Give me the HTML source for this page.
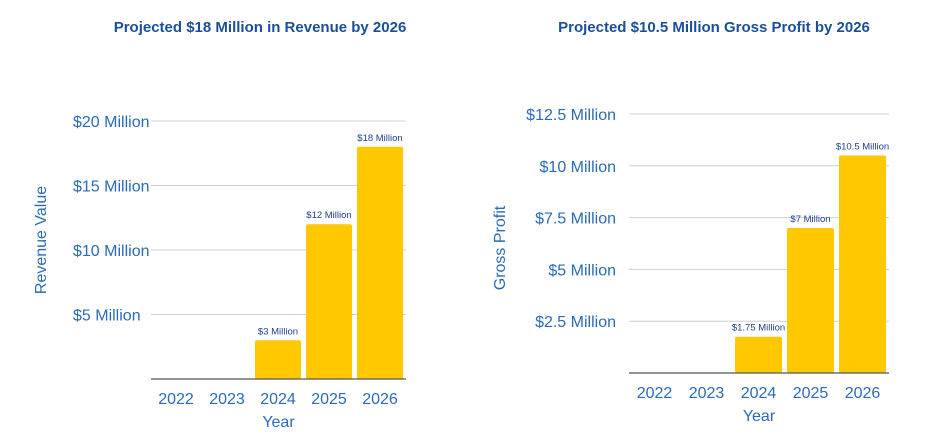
<!DOCTYPE html>
<html><head><meta charset="utf-8"><style>
html,body{margin:0;padding:0;background:#fff;width:936px;height:434px;overflow:hidden}
svg text{font-family:"Liberation Sans",sans-serif}
</style></head><body>
<svg id="s" width="936" height="434"></svg>
<script>
const years=["2022","2023","2024","2025","2026"];
const revenueValues=[0,0,3,12,18];
const revenueLabels=["","","$3 Million","$12 Million","$18 Million"];
const revenueTicks=[5,10,15,20];
const revenueTickLabels=["$5 Million","$10 Million","$15 Million","$20 Million"];
const profitValues=[0,0,1.75,7,10.5];
const profitLabels=["","","$1.75 Million","$7 Million","$10.5 Million"];
const profitTicks=[2.5,5,7.5,10,12.5];
const profitTickLabels=["$2.5 Million","$5 Million","$7.5 Million","$10 Million","$12.5 Million"];
const NS="http://www.w3.org/2000/svg";
const svg=document.getElementById('s');
function mk(tag,attrs,parent,text){const e=document.createElementNS(NS,tag);for(const k in attrs)e.setAttribute(k,attrs[k]);if(text!==undefined)e.textContent=text;(parent||svg).appendChild(e);return e;}
function chart(cfg){
  const g=mk('g',{});
  
  
  const y=v=>cfg.y0-(v/cfg.max)*(cfg.y0-cfg.yTop);
  const slot=(cfg.x1-cfg.x0)/cfg.cats.length;
  const t=mk('text',{x:cfg.titleX,y:32,'text-anchor':'middle','font-size':15,'font-weight':'bold',fill:'#1b4f9a'},g,cfg.title);
  
  
  cfg.ticks.forEach((v,i)=>{
    const l=mk('line',{x1:cfg.x0,x2:cfg.x1,y1:y(v),y2:y(v),stroke:'#d0d0d0','stroke-width':1},g);
    
    
    const tx=mk('text',{x:cfg.tickX,y:y(v)+6,'text-anchor':cfg.tickAnchor,'font-size':16,fill:'#2a6bb8'},g,cfg.tickLabels[i]);
    
    
  });
  cfg.vals.forEach((v,i)=>{
    const bx=cfg.x0+slot*i+2, bw=slot-5;
    if(v>0){
      const r=mk('rect',{x:bx,y:y(v),width:bw,height:cfg.y0-y(v),rx:2,fill:'#ffc800'},g);
      
      
      const vl=mk('text',{x:bx+bw/2,y:y(v)-6,'text-anchor':'middle','font-size':9.5,fill:'#1f3f8f'},g,cfg.labels[i]);
      
      
    }
    const xl=mk('text',{x:bx+bw/2,y:cfg.y0+25,'text-anchor':'middle','font-size':16,fill:'#2a6bb8'},g,cfg.cats[i]);
    
    
  });
  const b=mk('line',{x1:cfg.x0,x2:cfg.x1,y1:cfg.y0,y2:cfg.y0,stroke:'#555','stroke-width':1.2},g);
  
  
  const xt=mk('text',{x:(cfg.x0+cfg.x1)/2,y:cfg.y0+48,'text-anchor':'middle','font-size':16,fill:'#2a6bb8'},g,'Year');
  
  
  const yt=mk('text',{x:0,y:0,'text-anchor':'middle','font-size':16,fill:'#2a6bb8',transform:`translate(${cfg.ytX},${cfg.ytY}) rotate(-90)`},g,cfg.yTitle);
  
  
}
chart({name:'revenue-chart',title:'Projected $18 Million in Revenue by 2026',titleX:260,cats:years,vals:revenueValues,labels:revenueLabels,ticks:revenueTicks,tickLabels:revenueTickLabels,max:20,y0:379,yTop:121,x0:151,x1:406,tickX:73,tickAnchor:'start',yTitle:'Revenue Value',ytX:46,ytY:240});
chart({name:'profit-chart',title:'Projected $10.5 Million Gross Profit by 2026',titleX:714,cats:years,vals:profitValues,labels:profitLabels,ticks:profitTicks,tickLabels:profitTickLabels,max:12.5,y0:373,yTop:114,x0:629,x1:889,tickX:616,tickAnchor:'end',yTitle:'Gross Profit',ytX:505,ytY:248});
</script>
</body></html>
